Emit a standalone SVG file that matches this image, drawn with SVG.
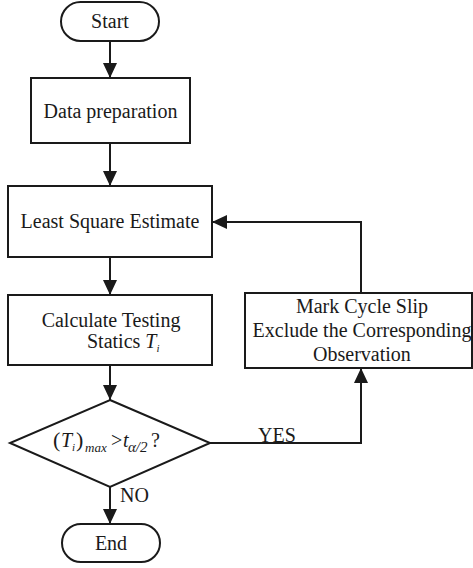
<svg xmlns="http://www.w3.org/2000/svg" width="473" height="568" viewBox="0 0 473 568">
  <style>
    .shape { fill: #ffffff; stroke: #1a1a1a; stroke-width: 2; }
    .edge { fill: none; stroke: #1a1a1a; stroke-width: 2; }
    .lbl { font-family: "Liberation Serif", "Times New Roman", serif; font-size: 20px; fill: #1a1a1a; }
    .mid { text-anchor: middle; }
    .it { font-style: italic; }
  </style>
  <defs>
    <marker id="arrow" markerUnits="userSpaceOnUse" markerWidth="16" markerHeight="16" viewBox="0 0 16 16" refX="15" refY="8" orient="auto">
      <path d="M0,1 L15,8 L0,15 Z" fill="#1a1a1a"/>
    </marker>
  </defs>
  <rect width="473" height="568" fill="#ffffff"/>

  <!-- connectors -->
  <g id="connectors">
    <line class="edge" x1="110" y1="41" x2="110" y2="78" marker-end="url(#arrow)"/>
    <line class="edge" x1="110" y1="143" x2="110" y2="186" marker-end="url(#arrow)"/>
    <line class="edge" x1="110" y1="257" x2="110" y2="295" marker-end="url(#arrow)"/>
    <line class="edge" x1="110" y1="365" x2="110" y2="400" marker-end="url(#arrow)"/>
    <line class="edge" x1="110" y1="487" x2="110" y2="524" marker-end="url(#arrow)"/>
    <polyline class="edge" points="210,443 361,443 361,368" marker-end="url(#arrow)"/>
    <polyline class="edge" points="361,293 361,222 212,222" marker-end="url(#arrow)"/>
    <text class="lbl" x="258" y="442">YES</text>
    <text class="lbl" x="120" y="502">NO</text>
  </g>

  <g id="start">
    <rect class="shape" x="61" y="2" width="98" height="39" rx="19.5" ry="19.5"/>
    <text class="lbl mid" x="110" y="28">Start</text>
  </g>

  <g id="data-preparation">
    <rect class="shape" x="31" y="78" width="159" height="65"/>
    <text class="lbl mid" x="110.5" y="118">Data preparation</text>
  </g>

  <g id="least-square">
    <rect class="shape" x="8" y="186" width="204" height="71"/>
    <text class="lbl mid" x="110" y="228">Least Square Estimate</text>
  </g>

  <g id="testing-statics">
    <rect class="shape" x="8" y="295" width="204" height="70"/>
    <text class="lbl mid" x="111" y="327">Calculate Testing</text>
    <text class="lbl" x="87" y="348">Statics <tspan class="it">T</tspan><tspan class="it" font-size="11" dy="4">i</tspan></text>
  </g>

  <g id="decision">
    <polygon class="shape" points="110,400 210,443 110,487 10,443"/>
    <text class="lbl" y="447"><tspan x="53" font-size="22">(</tspan><tspan x="61" class="it">T</tspan><tspan x="72" dy="4" class="it" font-size="11">i</tspan><tspan x="76" dy="-4" font-size="22">)</tspan><tspan x="85" dy="5" class="it" font-size="13">max</tspan><tspan x="111" dy="-5">&gt;</tspan><tspan x="123" class="it">t</tspan><tspan x="128" dy="5" class="it" font-size="15">α/2</tspan><tspan x="151" dy="-5">?</tspan></text>
  </g>

  <g id="mark-cycle-slip">
    <rect class="shape" x="245" y="293" width="227" height="75"/>
    <text class="lbl mid" x="362" y="313">Mark Cycle Slip</text>
    <text class="lbl mid" x="362" y="337">Exclude the Corresponding</text>
    <text class="lbl mid" x="362" y="361">Observation</text>
  </g>

  <g id="end">
    <rect class="shape" x="62" y="524" width="98" height="38" rx="19" ry="19"/>
    <text class="lbl mid" x="111" y="550">End</text>
  </g>
</svg>
